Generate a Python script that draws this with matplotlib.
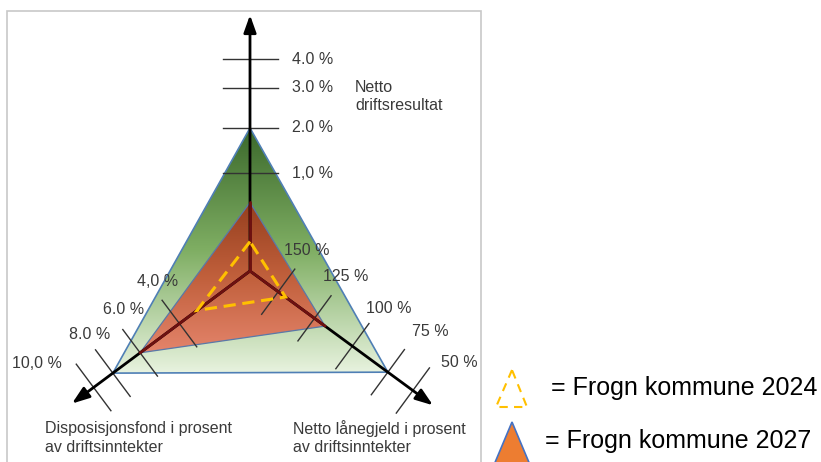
import numpy as np
import matplotlib
matplotlib.use("Agg")
import matplotlib.pyplot as plt
from matplotlib.patches import Polygon, Rectangle
from matplotlib.colors import LinearSegmentedColormap

plt.rcParams["font.family"] = ["Liberation Sans", "DejaVu Sans"]

# --- data -------------------------------------------------------------------
axis_names = ["Netto\ndriftsresultat",
              "Disposisjonsfond i prosent\nav driftsinntekter",
              "Netto lånegjeld i prosent\nav driftsinntekter"]
top_ticks = [1.0, 2.0, 3.0, 4.0]
top_labels = ["1,0 %", "2.0 %", "3.0 %", "4.0 %"]
left_ticks = [4.0, 6.0, 8.0, 10.0]
left_labels = ["4,0 %", "6.0 %", "8.0 %", "10,0 %"]
right_ticks = [50, 75, 100, 125, 150]
right_labels = ["50 %", "75 %", "100 %", "125 %", "150 %"]

target = [2.0, 8.0, 75]        # green reference triangle
frogn_2027 = [0.7, 6.0, 118]
frogn_2024 = [0.3, 3.0, 145]
legend_labels = ["= Frogn kommune 2024", "= Frogn kommune 2027"]

# --- layout (pixel space, y downwards) --------------------------------------
W, H = 821, 462
O = np.array([250.0, 271.0])
u_top = np.array([0.0, -1.0])
u_left = np.array([-137.0, 102.0]); u_left /= np.hypot(*u_left)
u_right = np.array([139.0, 102.0]); u_right /= np.hypot(*u_right)
# distance of each tick from the centre (the axes are not linear)
top_pos = [0, 98, 143, 183, 212]
left_pos = [0, 88, 137, 171, 195]
right_pos = [202, 171, 127, 80, 35]
arrow_len = [256, 222, 227]
TXT = "#3a3a3a"


def top_pt(v):
    return O + np.interp(v, [0] + top_ticks, top_pos) * u_top


def left_pt(v):
    return O + np.interp(v, [0] + left_ticks, left_pos) * u_left


def right_pt(v):
    return O + np.interp(v, right_ticks, right_pos) * u_right


def tri(vals):
    return np.array([top_pt(vals[0]), left_pt(vals[1]), right_pt(vals[2])])


def gradient(ax, pts, colors, z):
    poly = Polygon(pts, closed=True, fc="none", ec="none")
    ax.add_patch(poly)
    cmap = LinearSegmentedColormap.from_list("g", colors)
    grad = np.linspace(0, 1, 256).reshape(-1, 1)
    y0, y1 = pts[:, 1].min(), pts[:, 1].max()
    x0, x1 = pts[:, 0].min(), pts[:, 0].max()
    im = ax.imshow(grad, cmap=cmap, aspect="auto", origin="upper",
                   extent=(x0, x1, y1, y0), zorder=z)
    im.set_clip_path(poly)


fig = plt.figure(figsize=(W / 100, H / 100), dpi=100)
ax = fig.add_axes([0, 0, 1, 1])
ax.set_xlim(0, W)
ax.set_ylim(H, 0)
ax.axis("off")

ax.add_patch(Rectangle((7, 10.5), 474, 470, fc="white", ec="#c8c8c8", lw=1.2, zorder=0))

# reference (green) and 2027 (red) triangles
g = tri(target)
gradient(ax, g, ["#3a682b", "#7fae63", "#e8f3df"], 1)
ax.add_patch(Polygon(g, closed=True, fc="none", ec="#4f7fb5", lw=1.2, zorder=3))
r = tri(frogn_2027)
gradient(ax, r, ["#963f1e", "#c1603c", "#e4846b"], 2)
ax.add_patch(Polygon(r, closed=True, fc="none", ec="#5a78a8", lw=0.9, zorder=3))

# tick marks
for d in top_pos[1:]:
    p = O + d * u_top
    ax.plot([p[0] - 27, p[0] + 28], [p[1], p[1]], color="#333333", lw=1.0, zorder=4)
n_left = np.array([u_left[1], -u_left[0]])
n_right = np.array([-u_right[1], u_right[0]])
for d in left_pos[1:]:
    p = O + d * u_left
    ax.plot([p[0] - 29 * n_left[0], p[0] + 29 * n_left[0]],
            [p[1] - 29 * n_left[1], p[1] + 29 * n_left[1]], color="#333333", lw=1.0, zorder=4)
for d in right_pos:
    p = O + d * u_right
    ax.plot([p[0] - 28 * n_right[0], p[0] + 28 * n_right[0]],
            [p[1] - 28 * n_right[1], p[1] + 28 * n_right[1]], color="#333333", lw=1.0, zorder=4)

# axis arrows
for u, L in zip([u_top, u_left, u_right], arrow_len):
    tip = O + L * u
    ax.annotate("", xy=tip, xytext=O, zorder=5,
                arrowprops=dict(arrowstyle="-|>,head_length=0.7,head_width=0.25",
                                lw=2.0, color="black", mutation_scale=15,
                                shrinkA=0, shrinkB=0))
# axis segments seen through the red triangle
for p in r:
    ax.plot([O[0], p[0]], [O[1], p[1]], color="#6e1010", lw=2.0, zorder=6,
            solid_capstyle="round")

# 2024 dashed triangle
d24 = tri(frogn_2024)
ax.add_patch(Polygon(d24, closed=True, fc="none", ec="#ffc000", lw=2.2,
                     ls=(0, (4, 2.2)), zorder=7))

# tick labels
for d, lab in zip(top_pos[1:], top_labels):
    ax.text(292, O[1] - d, lab, ha="left", va="center", fontsize=11.5, color=TXT)
left_off = [(-5, -19), (1, -20), (-6, -15), (-39, -1)]
for d, lab, off in zip(left_pos[1:], left_labels, left_off):
    p = O + d * u_left - 29 * n_left
    ax.text(p[0] + off[0], p[1] + off[1], lab, ha="center", va="center",
            fontsize=11.5, color=TXT)
right_off = [(30, -5), (26, -18), (20, -15), (15, -19), (12, -19)]
for d, lab, off in zip(right_pos, right_labels, right_off):
    p = O + d * u_right - 28 * n_right
    ax.text(p[0] + off[0], p[1] + off[1], lab, ha="center", va="center",
            fontsize=11.5, color=TXT)

# axis titles
ax.text(355, 97, axis_names[0], ha="left", va="center", fontsize=11.5,
        color=TXT, linespacing=1.25)
ax.text(45, 438, axis_names[1], ha="left", va="center", fontsize=11.5,
        color=TXT, linespacing=1.25)
ax.text(293, 438, axis_names[2], ha="left", va="center", fontsize=11.5,
        color=TXT, linespacing=1.25)

# legend
ax.add_patch(Polygon([(512, 370), (496, 407), (527, 407)], closed=True, fc="none",
                     ec="#ffc000", lw=1.5, ls=(0, (4, 3)), zorder=7))
ax.add_patch(Polygon([(512, 422), (491, 472), (533, 472)], closed=True,
                     fc="#ed7d31", ec="#4472c4", lw=1.2, zorder=7))
ax.text(551, 388, legend_labels[0], ha="left", va="center", fontsize=18, color="black")
ax.text(545, 441, legend_labels[1], ha="left", va="center", fontsize=18, color="black")

fig.savefig("out.png", dpi=100)
